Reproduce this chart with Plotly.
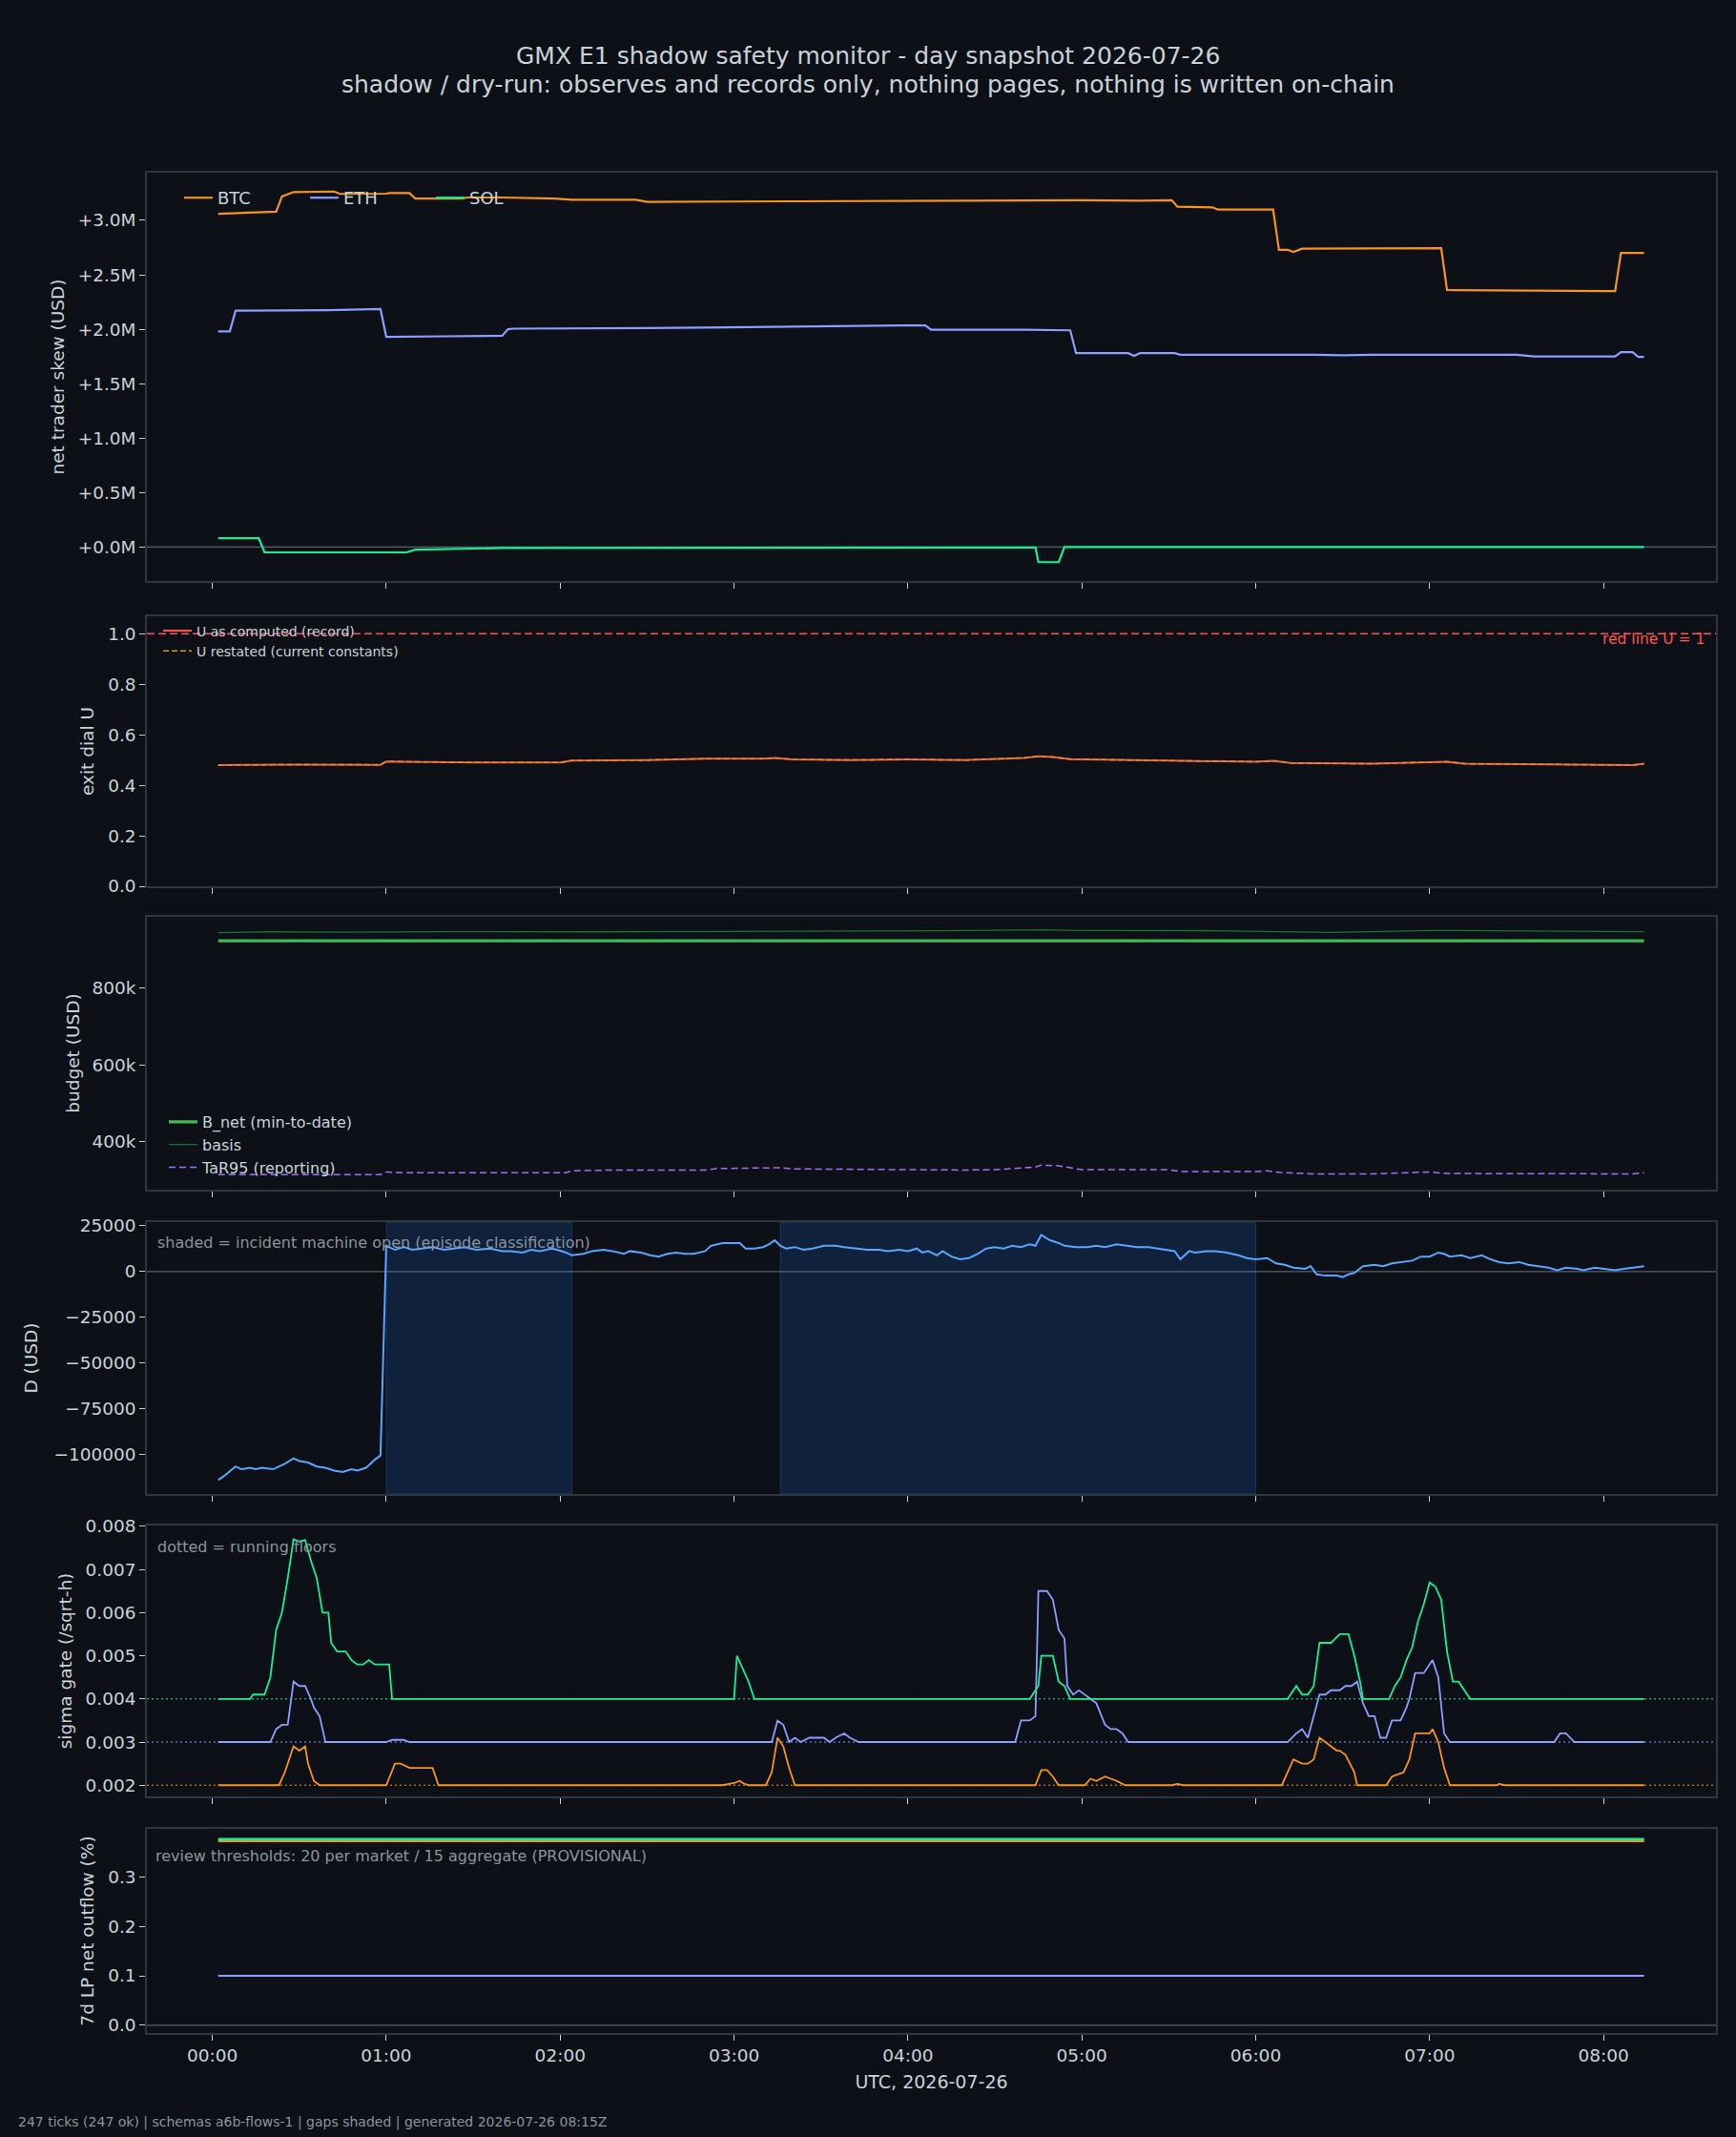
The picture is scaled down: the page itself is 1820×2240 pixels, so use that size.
import pandas as pd
import plotly.graph_objects as go

BASE = pd.Timestamp("2026-07-26 00:00")


def tt(mins):
    return [BASE + pd.Timedelta(minutes=m) for m in mins]


# ---------------- data (minutes after 00:00 UTC, values) ----------------
# panel 1: net trader skew (USD millions)
skew_btc_t = [2, 12, 22, 24, 28, 42, 44, 60, 61, 68, 70, 86, 88, 100, 118, 124, 146, 150, 160, 170,
              200, 260, 280, 300, 320, 325, 331, 333, 345, 347, 366, 368, 371, 373, 376, 424, 426,
              482, 484, 486, 494]
skew_btc_v = [3.06, 3.07, 3.08, 3.22, 3.26, 3.265, 3.243, 3.245, 3.25, 3.25, 3.20, 3.20, 3.21, 3.21,
              3.20, 3.19, 3.19, 3.17, 3.17, 3.175, 3.175, 3.18, 3.185, 3.185, 3.18, 3.185, 3.185,
              3.125, 3.12, 3.10, 3.10, 2.73, 2.73, 2.71, 2.74, 2.745, 2.36, 2.35, 2.35, 2.70, 2.70]
skew_eth_t = [2, 6, 8, 40, 58, 60, 80, 100, 102, 104, 150, 180, 200, 220, 238, 246, 248, 280, 296,
              298, 316, 318, 320, 332, 334, 380, 390, 400, 450, 456, 484, 486, 490, 492, 494]
skew_eth_v = [1.98, 1.98, 2.17, 2.175, 2.185, 1.93, 1.935, 1.94, 2.00, 2.005, 2.01, 2.02, 2.025,
              2.03, 2.035, 2.035, 1.995, 1.995, 1.99, 1.78, 1.78, 1.755, 1.78, 1.78, 1.765, 1.765,
              1.76, 1.765, 1.765, 1.75, 1.75, 1.79, 1.79, 1.745, 1.745]
skew_sol_t = [2, 16, 18, 67, 70, 84, 100, 284, 285, 292, 294, 494]
skew_sol_v = [0.08, 0.08, -0.05, -0.05, -0.025, -0.02, -0.01, -0.005, -0.14, -0.14, 0.0, 0.0]
skew_ticks = [0.0, 0.5, 1.0, 1.5, 2.0, 2.5, 3.0]
skew_ticktext = ["+0.0M", "+0.5M", "+1.0M", "+1.5M", "+2.0M", "+2.5M", "+3.0M"]

# panel 2: exit dial U
u_t = [2, 30, 58, 60, 90, 120, 124, 150, 170, 190, 194, 200, 220, 240, 260, 272, 280, 285, 290,
       296, 320, 340, 360, 366, 372, 400, 420, 426, 432, 460, 480, 490, 494]
u_v = [0.480, 0.482, 0.481, 0.494, 0.490, 0.490, 0.498, 0.500, 0.505, 0.505, 0.508, 0.502, 0.500,
       0.502, 0.500, 0.505, 0.508, 0.515, 0.512, 0.503, 0.500, 0.498, 0.493, 0.497, 0.488, 0.485,
       0.490, 0.493, 0.485, 0.483, 0.482, 0.480, 0.485]
u_redline = 1.0
u_ticks = [0.0, 0.2, 0.4, 0.6, 0.8, 1.0]
u_ticktext = ["0.0", "0.2", "0.4", "0.6", "0.8", "1.0"]

# panel 3: budget (USD thousands)
bnet_t = [2, 494]
bnet_v = [922.5, 922.5]
basis_t = [2, 20, 46, 80, 130, 170, 195, 250, 286, 300, 340, 366, 386, 421, 450, 494]
basis_v = [944, 946, 945, 946.5, 946, 946.5, 948.5, 948.5, 951, 949.5, 949, 947.5, 944.5, 949.5,
           948, 946.5]
tar_t = [2, 58, 60, 66, 122, 124, 138, 170, 174, 196, 200, 230, 260, 270, 284, 286, 292, 296, 300,
         330, 334, 360, 364, 368, 380, 400, 412, 420, 426, 490, 494]
tar_v = [315, 315, 322, 320, 320, 325, 327, 327, 331, 333, 330, 328, 327, 328, 335, 340, 338, 333,
         328, 328, 323, 323, 325, 321, 317, 317, 321, 322, 318, 317, 320]
budget_ticks = [400, 600, 800]
budget_ticktext = ["400k", "600k", "800k"]

# panel 4: D (USD)
d_t = [2, 4, 8, 10, 13, 15, 17, 21, 23, 25, 28, 30, 33, 36, 39, 42, 45, 48, 50, 53, 55, 56, 58,
       60, 63, 66, 69, 72, 76, 80, 83, 87, 91, 96, 100, 103, 107, 110, 113, 117, 119, 122, 124,
       128, 131, 135, 138, 142, 144, 148, 151, 154, 157, 160, 163, 166, 170, 172, 176, 179, 182,
       184, 187, 190, 192, 194, 196, 198, 201, 204, 207, 211, 215, 218, 222, 226, 230, 233, 237,
       240, 243, 245, 247, 250, 252, 255, 258, 261, 264, 267, 270, 273, 276, 279, 282, 284, 286,
       289, 292, 294, 298, 302, 305, 308, 312, 316, 319, 323, 326, 330, 332, 334, 337, 339, 343,
       346, 350, 354, 357, 360, 364, 367, 370, 373, 377, 379, 381, 384, 388, 390, 392, 394, 397,
       401, 404, 407, 411, 414, 417, 420, 423, 425, 427, 431, 434, 438, 441, 444, 447, 451, 454,
       458, 461, 464, 467, 471, 473, 477, 480, 484, 487, 491, 494]
d_v = [-113800, -111600, -106400, -107900, -107100, -107900, -107100, -107900, -106400, -104900,
       -101900, -103400, -104200, -106400, -107100, -108600, -109400, -107900, -108600, -107100,
       -104200, -102700, -100400,
       14100, 11900, 13400, 11900, 12600, 13400, 11900, 12600, 13400, 11900, 12600, 11200, 11200,
       10400, 11900, 11200, 12600, 11900, 10400, 8900, 9700, 11200, 11900, 11200, 9700, 11200,
       10400, 8900, 8200, 9700, 10400, 9700, 9700, 11200, 14100, 15600, 15600, 15600, 12600, 12600,
       13400, 14900, 17100, 14100, 12600, 13400, 11900, 12600, 14100, 14100, 13400, 12600, 11900,
       11900, 11200, 11900, 11200, 12600, 10400, 11200, 8900, 11200, 8200, 6700, 7400, 9700, 12600,
       13400, 12600, 14100, 13400, 14900, 14100, 20100, 17100, 15600, 14100, 13400, 13400, 14100,
       13400, 14900, 14100, 13400, 13400, 12600, 11900, 11200, 6700, 11200, 10400, 11200, 11200,
       10400, 8900, 7400, 6700, 7400, 4500, 3700, 2200, 1500, 3000, -1500, -2200, -2200, -3000,
       -1500, -700, 3000, 3700, 3000, 4500, 5200, 6000, 8200, 8200, 10400, 9700, 8200, 8900, 7400,
       8900, 6700, 5200, 4500, 5200, 3700, 3000, 2200, 700, 2200, 1500, 700, 2200, 1500, 700, 1500,
       2200, 3000]
incident_start = [60, 196]
incident_end = [124, 360]
d_ticks = [-100000, -75000, -50000, -25000, 0, 25000]
d_ticktext = ["\u2212100000", "\u221275000", "\u221250000", "\u221225000", "0", "25000"]

# panel 5: sigma gate (/sqrt-h)
sig_sol_t = [2, 13, 14, 18, 20, 22, 24, 26, 28, 30, 32, 34, 36, 38, 40, 41, 43, 46, 48, 50, 52, 54,
             56, 58, 61, 62, 180, 181, 183, 185, 187, 282, 285, 286, 290, 292, 294, 296, 371, 374,
             376, 378, 380, 382, 386, 389, 392, 394, 396, 397, 406, 408, 410, 412, 414, 416, 418,
             420, 422, 424, 426, 428, 430, 432, 434, 494]
sig_sol_v = [0.004, 0.004, 0.0041, 0.0041, 0.0045, 0.0056, 0.006, 0.0068, 0.0077, 0.00765,
             0.00768, 0.0072, 0.0068, 0.006, 0.006, 0.0053, 0.0051, 0.0051, 0.0049, 0.0048, 0.0048,
             0.0049, 0.0048, 0.0048, 0.0048, 0.004, 0.004, 0.005, 0.0047, 0.0044, 0.004, 0.004,
             0.0043, 0.005, 0.005, 0.0044, 0.0043, 0.004, 0.004, 0.0043, 0.0041, 0.0041, 0.0043,
             0.0053, 0.0053, 0.0055, 0.0055, 0.005, 0.0044, 0.004, 0.004, 0.0043, 0.0045, 0.0049,
             0.0052, 0.0058, 0.0062, 0.0067, 0.0066, 0.0063, 0.0051, 0.0044, 0.0044, 0.0042, 0.004,
             0.004]
sig_eth_t = [2, 20, 22, 24, 26, 28, 30, 32, 34, 35, 37, 39, 60, 62, 66, 68, 193, 195, 197, 199,
             201, 203, 206, 211, 213, 215, 218, 220, 223, 277, 279, 282, 284, 285, 288, 290, 292,
             294, 295, 297, 299, 301, 303, 305, 308, 310, 312, 314, 316, 371, 374, 376, 378, 380,
             382, 384, 386, 389, 391, 393, 395, 397, 399, 401, 403, 405, 407, 410, 412, 413, 415,
             418, 420, 421, 423, 425, 427, 463, 465, 467, 470, 494]
sig_eth_v = [0.003, 0.003, 0.0033, 0.0034, 0.0034, 0.0044, 0.0043, 0.0043, 0.004, 0.0038, 0.0036,
             0.003, 0.003, 0.00305, 0.00305, 0.003, 0.003, 0.0035, 0.0034, 0.003, 0.0031, 0.003,
             0.0031, 0.0031, 0.003, 0.0031, 0.0032, 0.0031, 0.003, 0.003, 0.0035, 0.0035, 0.0036,
             0.0065, 0.0065, 0.0063, 0.0056, 0.0054, 0.0043, 0.0041, 0.0042, 0.0041, 0.004, 0.0039,
             0.0034, 0.0033, 0.0033, 0.0032, 0.003, 0.003, 0.0032, 0.0033, 0.0031, 0.0036, 0.0041,
             0.0041, 0.0042, 0.0042, 0.0043, 0.0043, 0.0044, 0.0039, 0.0036, 0.0036, 0.0031, 0.0031,
             0.0035, 0.0035, 0.0038, 0.004, 0.0046, 0.0046, 0.0048, 0.0049, 0.0045, 0.0032, 0.003,
             0.003, 0.0032, 0.0032, 0.003, 0.003]
sig_btc_t = [2, 23, 25, 28, 30, 32, 33, 35, 37, 60, 63, 65, 68, 76, 78, 176, 180, 182, 183, 185,
             191, 193, 195, 197, 199, 201, 284, 286, 288, 290, 292, 301, 303, 305, 308, 310, 312,
             315, 331, 333, 335, 369, 371, 373, 376, 378, 380, 382, 384, 386, 388, 389, 391, 394,
             395, 405, 407, 411, 413, 415, 418, 420, 421, 423, 425, 427, 443, 444, 446, 494]
sig_btc_v = [0.002, 0.002, 0.0023, 0.0029, 0.0028, 0.0029, 0.0025, 0.0021, 0.002, 0.002, 0.0025,
             0.0025, 0.0024, 0.0024, 0.002, 0.002, 0.00205, 0.0021, 0.00205, 0.002, 0.002, 0.0023,
             0.0031, 0.0029, 0.0024, 0.002, 0.002, 0.00235, 0.00235, 0.0022, 0.002, 0.002, 0.00215,
             0.0021, 0.0022, 0.00215, 0.0021, 0.002, 0.002, 0.00203, 0.002, 0.002, 0.0023, 0.0026,
             0.0025, 0.0025, 0.0026, 0.0031, 0.003, 0.0029, 0.0028, 0.0028, 0.0027, 0.0023, 0.002,
             0.002, 0.0022, 0.0023, 0.0026, 0.0032, 0.0032, 0.0032, 0.0033, 0.003, 0.0024, 0.002,
             0.002, 0.00203, 0.002, 0.002]
sig_floor_btc = 0.002
sig_floor_eth = 0.003
sig_floor_sol = 0.004
sig_ticks = [0.002, 0.003, 0.004, 0.005, 0.006, 0.007, 0.008]
sig_ticktext = ["0.002", "0.003", "0.004", "0.005", "0.006", "0.007", "0.008"]

# panel 6: 7d LP net outflow (%)
out_t = [2, 494]
out_btc_v = [0.372, 0.372]
out_eth_v = [0.1, 0.1]
out_sol_v = [0.376, 0.376]
out_ticks = [0.0, 0.1, 0.2, 0.3]
out_ticktext = ["0.0", "0.1", "0.2", "0.3"]

hour_ticks = list(range(0, 9))
hour_labels = ["00:00", "01:00", "02:00", "03:00", "04:00", "05:00", "06:00", "07:00", "08:00"]

# ---------------- style ----------------
BG = "#0d1117"
FG = "#c9d1d9"
MUTED = "#8b949e"
SPINE = "#30363d"
ZERO = "#6e7681"
C_BTC = "#f7931a"
C_ETH = "#8c9eff"
C_SOL = "#14f195"
C_RED = "#ff5252"
C_GOLD = "#d29922"
C_GREEN = "#3fb950"
C_DKGREEN = "#1f6f33"
C_PURPLE = "#a371f7"
C_BLUE = "#58a6ff"
FONT = "DejaVu Sans"
TICK_FS = 18.5
TITLE_FS = 18.5

W, H = 1820, 2240
X_DOM = [154 / W, 1799 / W]
# panel pixel extents (top, bottom)
PANELS = [(181, 609), (646, 929), (961, 1247), (1281, 1566), (1599, 1883), (1917, 2131)]
Y_DOMS = [[1 - b / H, 1 - t / H] for t, b in PANELS]

fig = go.Figure()


def add(xm, y, row, color, width=2.0, dash=None, name=None, legend=None):
    fig.add_trace(go.Scatter(
        x=tt(xm), y=y, mode="lines", name=name,
        line=dict(color=color, width=width, dash=dash),
        xaxis="x" if row == 1 else f"x{row}", yaxis="y" if row == 1 else f"y{row}",
        showlegend=legend is not None, legend=legend if legend else "legend",
        hoverinfo="skip"))


add(skew_btc_t, skew_btc_v, 1, C_BTC, 2.2, name="BTC", legend="legend")
add(skew_eth_t, skew_eth_v, 1, C_ETH, 2.2, name="ETH", legend="legend")
add(skew_sol_t, skew_sol_v, 1, C_SOL, 2.2, name="SOL", legend="legend")

add(u_t, u_v, 2, C_RED, 2, name="U as computed (record)", legend="legend2")
add(u_t, u_v, 2, C_GOLD, 1.5, dash="6px,3px", name="U restated (current constants)", legend="legend2")

add(bnet_t, bnet_v, 3, C_GREEN, 3.3, name="B_net (min-to-date)", legend="legend3")
add(basis_t, basis_v, 3, C_DKGREEN, 1.3, name="basis", legend="legend3")
add(tar_t, tar_v, 3, C_PURPLE, 1.5, dash="7px,4px", name="TaR95 (reporting)", legend="legend3")

add(d_t, d_v, 4, C_BLUE, 2)

add(sig_btc_t, sig_btc_v, 5, C_BTC, 1.8)
add(sig_eth_t, sig_eth_v, 5, C_ETH, 1.8)
add(sig_sol_t, sig_sol_v, 5, C_SOL, 1.8)

add(out_t, out_btc_v, 6, C_BTC, 2.5)
add(out_t, out_eth_v, 6, C_ETH, 2)
add(out_t, out_sol_v, 6, C_SOL, 2.5)

shapes = []


def hline(row, yv, color, width=1, dash=None):
    xr = "x" if row == 1 else f"x{row}"
    yr = "y" if row == 1 else f"y{row}"
    shapes.append(dict(type="line", xref=f"{xr} domain", yref=yr, x0=0, x1=1, y0=yv, y1=yv,
                       line=dict(color=color, width=width, dash=dash), layer="below"))


hline(1, 0, ZERO, 1)
hline(2, u_redline, C_RED, 1.6, "8px,4px")
hline(4, 0, ZERO, 1)
hline(5, sig_floor_btc, C_BTC, 1, "2px,3px")
hline(5, sig_floor_eth, C_ETH, 1, "2px,3px")
hline(5, sig_floor_sol, C_SOL, 1, "2px,3px")
hline(6, 0, ZERO, 1)
for s, e in zip(incident_start, incident_end):
    x0, x1 = tt([s, e])
    shapes.append(dict(type="rect", xref="x4", yref="y4 domain", x0=x0, x1=x1, y0=0, y1=1,
                       fillcolor="rgba(31,111,235,0.17)",
                       line=dict(color="rgba(56,139,253,0.25)", width=1), layer="below"))

annotations = [
    dict(text="GMX E1 shadow safety monitor - day snapshot 2026-07-26", xref="paper", yref="paper",
         x=0.5, y=1 - 58.6 / H, xanchor="center", yanchor="middle", showarrow=False,
         font=dict(size=25, color=FG)),
    dict(text="shadow / dry-run: observes and records only, nothing pages, nothing is written on-chain",
         xref="paper", yref="paper", x=0.5, y=1 - 88.6 / H, xanchor="center", yanchor="middle",
         showarrow=False, font=dict(size=25, color=FG)),
    dict(text="red line U = 1", xref="x2 domain", yref="y2", x=0.994, y=0.978, xanchor="right",
         yanchor="middle", showarrow=False, font=dict(size=15.5, color=C_RED)),
    dict(text="shaded = incident machine open (episode classification)", xref="x4 domain",
         yref="y4 domain", x=0.0055, y=0.923, xanchor="left", yanchor="middle", showarrow=False,
         font=dict(size=16, color=MUTED)),
    dict(text="dotted = running floors", xref="x5 domain", yref="y5 domain", x=0.0055, y=0.92,
         xanchor="left", yanchor="middle", showarrow=False, font=dict(size=16, color=MUTED)),
    dict(text="review thresholds: 20 per market / 15 aggregate (PROVISIONAL)", xref="x6 domain",
         yref="y6 domain", x=0.0045, y=0.869, xanchor="left", yanchor="middle", showarrow=False,
         font=dict(size=16, color=MUTED)),
    dict(text="247 ticks (247 ok) | schemas a6b-flows-1 | gaps shaded | generated 2026-07-26 08:15Z",
         xref="paper", yref="paper", x=17 / W, y=1 - 2224 / H, xanchor="left", yanchor="middle",
         showarrow=False, font=dict(size=14, color=MUTED)),
]

x_range = [BASE - pd.Timedelta(minutes=22.6), BASE + pd.Timedelta(minutes=518.8)]
y_ranges = [[-0.313, 3.438], [0, 1.069], [276, 985], [-121400, 27030], [0.00174, 0.00802],
            [-0.0156, 0.3967]]
y_titles = ["net trader skew (USD)", "exit dial U", "budget (USD)", "D (USD)", "sigma gate (/sqrt-h)",
            "7d LP net outflow (%)"]
y_standoff = [9, 10, 8, 12, 9, 10]
y_tickvals = [skew_ticks, u_ticks, budget_ticks, d_ticks, sig_ticks, out_ticks]
y_ticktext = [skew_ticktext, u_ticktext, budget_ticktext, d_ticktext, sig_ticktext, out_ticktext]

layout = dict(
    width=W, height=H, paper_bgcolor=BG, plot_bgcolor=BG,
    margin=dict(l=0, r=0, t=0, b=0, pad=0, autoexpand=False),
    font=dict(family=FONT, color=FG, size=16),
    shapes=shapes, annotations=annotations,
    legend=dict(orientation="h", x=188 / W, y=1 - 189 / H, xanchor="left", yanchor="top",
                bgcolor="rgba(0,0,0,0)", font=dict(size=18, color=FG), entrywidth=87,
                entrywidthmode="pixels"),
    legend2=dict(x=166 / W, y=1 - 645.5 / H, xanchor="left", yanchor="top",
                 bgcolor="rgba(0,0,0,0)", font=dict(size=14, color=FG), tracegroupgap=0),
    legend3=dict(x=172 / W, y=1 - 1159 / H, xanchor="left", yanchor="top",
                 bgcolor="rgba(0,0,0,0)", font=dict(size=16, color=FG), tracegroupgap=0),
)

for i in range(6):
    r = i + 1
    xk = "xaxis" if r == 1 else f"xaxis{r}"
    yk = "yaxis" if r == 1 else f"yaxis{r}"
    ya = "y" if r == 1 else f"y{r}"
    xa = "x" if r == 1 else f"x{r}"
    layout[xk] = dict(
        domain=X_DOM, anchor=ya, range=x_range, type="date", automargin=False,
        tickvals=tt([h * 60 for h in hour_ticks]), ticktext=hour_labels,
        showticklabels=(r == 6), ticks="outside", ticklen=6, tickcolor=FG, tickwidth=1,
        showgrid=False, zeroline=False, showline=True, mirror=True, linecolor=SPINE, linewidth=1.5,
        tickfont=dict(size=TICK_FS, color=FG),
    )
    if r != 1:
        layout[xk]["matches"] = "x"
    if r == 6:
        layout[xk]["title"] = dict(text="UTC, 2026-07-26", font=dict(size=19, color=FG), standoff=12)
    layout[yk] = dict(
        domain=Y_DOMS[i], anchor=xa, range=y_ranges[i], tickvals=y_tickvals[i], automargin=False,
        ticktext=y_ticktext[i], ticks="outside", ticklen=6, tickcolor=FG, tickwidth=1,
        showgrid=False, zeroline=False, showline=True, mirror=True, linecolor=SPINE, linewidth=1.5,
        tickfont=dict(size=TICK_FS, color=FG),
        title=dict(text=y_titles[i], font=dict(size=TITLE_FS, color=FG), standoff=y_standoff[i]),
    )

fig.update_layout(**layout)
fig.write_html("out.html")
